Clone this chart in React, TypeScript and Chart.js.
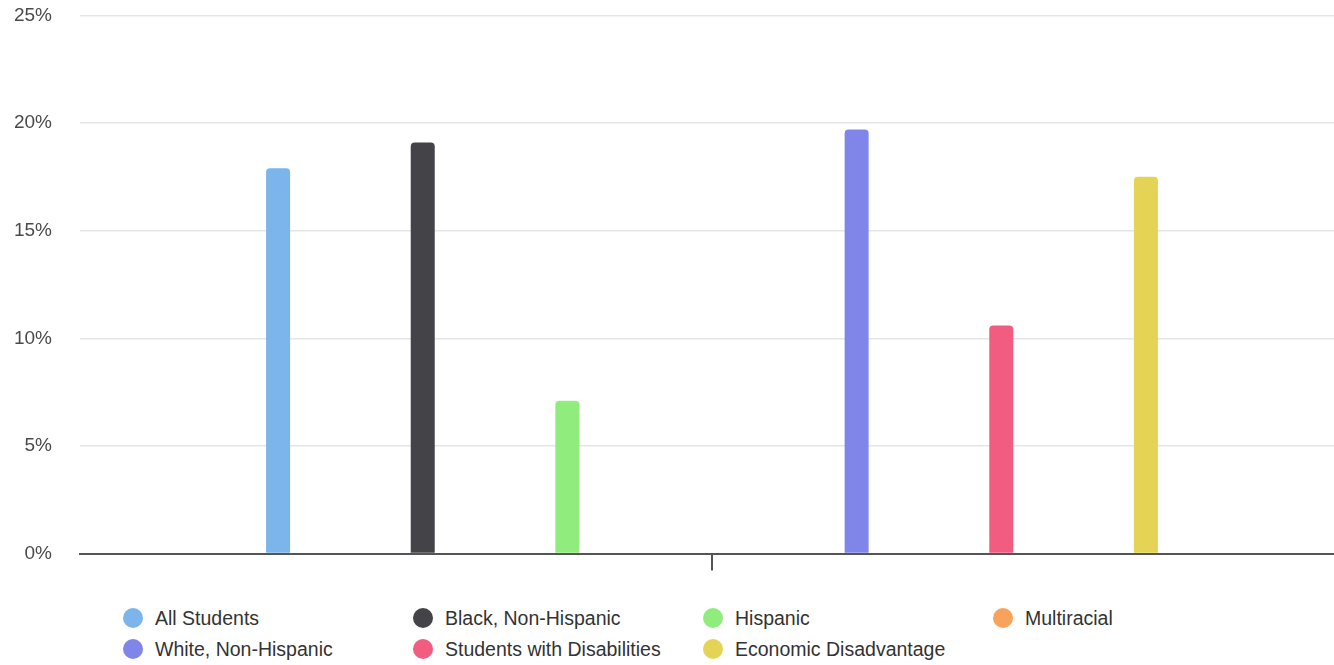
import React, { useEffect, useRef } from "react";
import { Chart, registerables } from "chart.js";

Chart.register(...registerables);

const categories = ["Students"];
const seriesNames = [
  "All Students",
  "Black, Non-Hispanic",
  "Hispanic",
  "Multiracial",
  "White, Non-Hispanic",
  "Students with Disabilities",
  "Economic Disadvantage",
];
const seriesValues: (number | null)[] = [17.9, 19.1, 7.1, null, 19.7, 10.6, 17.5];
const seriesColors = ["#7cb5ec", "#434348", "#90ed7d", "#f7a35c", "#8085e9", "#f15c80", "#e4d354"];
const yTicks = [0, 5, 10, 15, 20, 25];

const FONT = "'Liberation Sans', Arial, Helvetica, sans-serif";

export default function App() {
  const ref = useRef<HTMLCanvasElement | null>(null);

  useEffect(() => {
    if (!ref.current) return;
    const chart = new Chart(ref.current, {
      type: "bar",
      data: {
        labels: categories,
        datasets: seriesNames.map((name, i) => ({
          label: name,
          data: [seriesValues[i]],
          backgroundColor: seriesColors[i],
          borderWidth: 0,
          borderRadius: 4,
          categoryPercentage: 0.801,
          barPercentage: 0.166,
        })),
      },
      options: {
        animation: false,
        responsive: false,
        maintainAspectRatio: false,
        layout: { padding: { top: 15, left: 0, right: 0, bottom: 0 } },
        plugins: {
          legend: { display: false },
          tooltip: { enabled: false },
        },
        scales: {
          x: {
            ticks: { display: false },
            grid: {
              offset: false,
              drawOnChartArea: false,
              drawTicks: true,
              tickLength: 17,
              color: "#555555",
              lineWidth: 2,
            },
            border: { display: true, color: "#555555", width: 2 },
          },
          y: {
            min: yTicks[0],
            max: yTicks[yTicks.length - 1],
            afterFit: (s: any) => {
              s.width = 80;
            },
            afterBuildTicks: (s: any) => {
              s.ticks = yTicks.map((v) => ({ value: v }));
            },
            ticks: {
              stepSize: 5,
              padding: 28,
              color: "#4a4a4a",
              font: { family: FONT, size: 19 },
              callback: (v: any) => v + "%",
            },
            grid: { color: "#e6e6e6", lineWidth: 1.5, drawTicks: false },
            border: { display: false },
          },
        },
      },
    });
    return () => chart.destroy();
  }, []);

  const colX = [133, 423, 713, 1003];
  const rowY = [618, 649];

  return (
    <div
      style={{
        position: "absolute",
        left: 0,
        top: 0,
        width: 1334,
        height: 665,
        overflow: "hidden",
        background: "#ffffff",
      }}
    >
      <canvas
        ref={ref}
        width={1344}
        height={617}
        style={{ position: "absolute", left: 0, top: -24, display: "block", width: 1344, height: 617 }}
      />
      {seriesNames.map((name, i) => {
        const cx = colX[i % 4];
        const cy = rowY[Math.floor(i / 4)];
        return (
          <div
            key={name}
            style={{
              position: "absolute",
              left: cx - 10,
              top: cy - 12,
              height: 24,
              display: "flex",
              alignItems: "center",
              whiteSpace: "nowrap",
              fontFamily: FONT,
              fontSize: 19.5,
              color: "#333333",
            }}
          >
            <span
              style={{
                display: "inline-block",
                width: 20,
                height: 20,
                borderRadius: "50%",
                background: seriesColors[i],
                marginRight: 12,
              }}
            />
            <span>{name}</span>
          </div>
        );
      })}
    </div>
  );
}
